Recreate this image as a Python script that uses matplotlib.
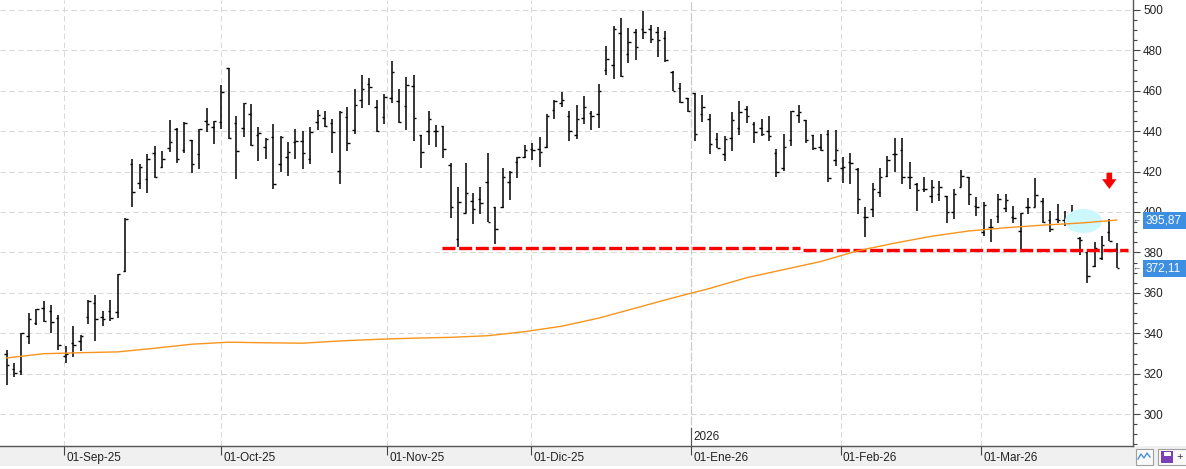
import matplotlib
matplotlib.use("Agg")
import matplotlib.pyplot as plt
import matplotlib.transforms as mtransforms
from matplotlib.patches import Ellipse, Polygon, Rectangle
from matplotlib.ticker import MultipleLocator

# ---------------- data ----------------
opens = [329.8, 322.2, 321.5, 338.8, 344.9, 352.4, 351.0, 347.4, 328.8, 335.0,
         336.4, 347.9, 354.8, 348.2, 351.0, 350.4, 371.0, 423.6, 414.5, 416.2,
         429.0, 422.1, 431.5, 441.0, 430.7, 435.6, 428.5, 445.0, 441.9, 444.3,
         471.1, 443.9, 441.4, 448.3, 438.1, 432.1, 437.3, 423.7, 427.0, 434.8,
         435.1, 426.2, 444.5, 446.3, 443.9, 420.3, 447.1, 440.6, 455.2, 463.3,
         451.8, 446.8, 456.2, 454.7, 452.2, 462.1, 437.9, 440.1, 440.1, 442.5,
         423.2, 386.5, 399.3, 405.6, 406.3, 415.0, 402.6, 402.3, 414.7, 424.6,
         427.0, 431.0, 431.0, 432.3, 450.5, 453.7, 447.5, 438.1, 446.6, 449.1,
         448.5, 470.2, 472.7, 488.4, 478.1, 488.9, 490.3, 490.3, 488.9, 485.9,
         469.4, 461.2, 456.5, 458.7, 448.3, 446.0, 436.0, 428.6, 436.6, 441.5,
         451.0, 443.5, 441.4, 440.0, 429.3, 421.6, 435.4, 448.0, 445.5, 438.1,
         432.0, 438.6, 425.7, 421.9, 424.6, 421.3, 397.4, 401.5, 410.0, 418.0,
         428.5, 430.7, 417.5, 413.7, 411.4, 407.9, 408.7, 407.9, 399.8, 412.5,
         417.1, 403.1, 390.3, 392.7, 398.0, 402.1, 397.4, 390.8, 402.3, 402.3,
         405.6, 396.0, 396.4, 396.0, 399.0, 387.0, 380.0, 373.5, 377.0, 390.3,
         381.5]
highs = [331.8, 325.1, 340.3, 349.9, 352.0, 356.0, 354.0, 349.0, 333.7, 343.6,
         339.2, 356.5, 358.9, 351.0, 356.5, 369.3, 396.9, 426.2, 423.6, 428.7,
         432.6, 430.2, 445.5, 441.4, 444.7, 435.6, 440.9, 451.3, 445.2, 462.8,
         471.1, 447.5, 453.7, 453.2, 442.2, 436.8, 443.5, 437.8, 434.8, 441.1,
         440.2, 441.9, 450.4, 450.0, 445.8, 450.0, 451.8, 460.7, 467.8, 466.1,
         455.4, 458.2, 474.7, 460.7, 466.6, 467.8, 437.9, 450.0, 443.0, 442.5,
         424.1, 412.2, 424.1, 409.2, 412.2, 429.0, 402.6, 421.6, 420.4, 427.4,
         433.0, 434.0, 437.3, 448.5, 455.4, 459.2, 450.0, 452.9, 457.4, 450.0,
         463.1, 482.1, 492.0, 495.8, 491.2, 490.3, 499.4, 492.5, 491.3, 489.5,
         469.7, 464.0, 456.5, 458.7, 457.9, 448.5, 439.0, 437.6, 449.5, 454.9,
         452.4, 444.3, 446.0, 447.5, 431.0, 438.6, 450.0, 452.9, 445.5, 438.1,
         438.6, 440.6, 440.6, 427.4, 429.0, 421.6, 402.3, 414.5, 421.6, 427.7,
         436.4, 436.4, 424.9, 414.2, 417.5, 415.8, 415.3, 407.9, 411.4, 420.8,
         417.1, 407.3, 404.8, 396.4, 408.9, 408.9, 403.0, 399.7, 407.1, 416.6,
         407.1, 400.5, 404.0, 400.7, 403.6, 387.5, 380.4, 385.3, 388.1, 396.6,
         384.5]
lows = [314.4, 318.6, 319.4, 334.7, 344.1, 345.8, 340.0, 331.8, 325.5, 328.5,
        331.4, 344.6, 336.4, 343.6, 346.3, 347.7, 370.5, 402.6, 411.2, 409.6,
        416.6, 421.9, 429.5, 424.1, 429.3, 419.5, 421.1, 439.7, 433.5, 440.9,
        435.9, 416.3, 437.0, 432.8, 425.4, 426.4, 411.5, 420.0, 418.0, 426.4,
        421.4, 423.9, 440.6, 442.2, 429.3, 413.8, 430.2, 438.6, 451.6, 452.9,
        439.7, 443.5, 454.1, 444.2, 440.6, 435.3, 421.9, 433.1, 432.3, 426.9,
        396.8, 382.8, 399.3, 393.9, 398.8, 394.9, 384.0, 402.1, 406.0, 417.0,
        426.5, 425.7, 422.4, 431.5, 445.8, 452.1, 435.3, 436.0, 443.5, 440.6,
        441.7, 467.8, 465.8, 466.6, 473.5, 475.2, 485.6, 483.4, 476.8, 474.4,
        459.8, 454.1, 449.6, 435.3, 444.7, 428.7, 431.5, 425.0, 430.3, 438.1,
        444.2, 434.3, 437.6, 435.1, 417.5, 420.3, 432.6, 443.8, 434.3, 430.7,
        430.2, 414.8, 422.7, 414.5, 413.9, 399.0, 387.8, 397.7, 407.6, 417.5,
        419.9, 413.9, 411.4, 400.7, 409.7, 404.3, 405.6, 394.4, 396.4, 412.5,
        403.5, 398.2, 388.3, 385.3, 394.7, 399.8, 394.4, 381.2, 399.0, 402.3,
        394.7, 390.3, 394.4, 393.1, 396.0, 378.7, 364.7, 373.0, 376.3, 385.7,
        372.1]
closes = [324.3, 320.2, 340.0, 346.9, 351.9, 345.9, 345.8, 334.1, 329.8, 334.2,
          338.8, 356.1, 346.9, 347.1, 347.7, 369.2, 396.5, 410.1, 422.1, 426.0,
          417.1, 426.0, 434.5, 426.2, 443.9, 423.6, 440.9, 443.4, 445.0, 459.5,
          436.4, 430.2, 453.7, 433.1, 439.2, 436.1, 413.8, 436.9, 429.5, 435.3,
          429.0, 439.4, 447.8, 442.7, 439.4, 449.3, 434.0, 452.7, 460.7, 462.0,
          440.2, 457.0, 469.4, 444.5, 462.6, 446.3, 429.5, 445.8, 440.1, 431.2,
          402.4, 404.8, 409.2, 401.3, 404.3, 395.2, 391.4, 417.5, 419.6, 427.0,
          430.7, 430.7, 429.5, 447.5, 455.1, 455.4, 440.1, 446.0, 451.8, 447.5,
          460.0, 475.5, 490.3, 467.3, 483.9, 481.4, 489.2, 485.6, 485.1, 475.2,
          460.0, 454.6, 450.0, 438.4, 451.8, 433.5, 431.6, 436.0, 445.5, 449.3,
          447.3, 439.4, 438.6, 437.8, 419.6, 432.0, 450.0, 449.3, 435.6, 431.5,
          430.7, 416.6, 430.7, 422.1, 424.4, 406.3, 397.4, 411.2, 417.5, 425.7,
          428.5, 417.3, 417.5, 410.9, 411.4, 412.2, 412.2, 399.8, 408.9, 417.8,
          408.7, 402.6, 403.5, 392.7, 406.4, 406.0, 396.9, 399.3, 402.3, 408.3,
          395.2, 391.6, 396.0, 397.0, 399.5, 386.0, 368.5, 382.4, 383.5, 385.7,
          372.1]

# moving average, read every 5 bars
ma_bar = list(range(0, 151, 5))
ma_val = [327.8, 329.9, 330.4, 330.8, 332.6, 334.6, 335.6, 335.3, 335.1, 336.2,
          337.0, 337.6, 338.0, 338.8, 340.8, 343.5, 347.5, 352.5, 357.5, 362.2,
          367.5, 371.5, 375.5, 380.8, 384.6, 388.0, 390.6, 392.2, 393.5, 394.5,
          396.0]

month_labels = ["01-Sep-25", "01-Oct-25", "01-Nov-25", "01-Dic-25",
                "01-Ene-26", "01-Feb-26", "01-Mar-26"]
month_pos = [7.8, 29.0, 51.4, 70.9, 92.5, 112.7, 131.7]
year_label = "2026"
year_pos = 92.5

y_ticks = list(range(300, 501, 20))
last_ma_label = "395,87"
last_close_label = "372,11"
last_ma_value = 395.87
last_close_value = 372.11

# support lines (two dashed red segments)
support_1 = (58.8, 107.2, 382.05)
support_2 = (107.6, 151.5, 381.4)

# --------------------------------------------------------------
W, H = 1186, 469
fig = plt.figure(figsize=(W / 100, H / 100), dpi=100)
fig.patch.set_facecolor("white")
plt.rcParams["font.family"] = ["Liberation Sans", "DejaVu Sans"]

# bottom strip (behind the axes)
fig.patches.append(Rectangle((0, 3.5 / H), 1, 20 / H,
                             transform=fig.transFigure, facecolor="#f0f0f0",
                             edgecolor="none", zorder=-10))

ax_bottom = (H - 445.7) / H
ax = fig.add_axes([0, ax_bottom, 1133 / W, 1 - ax_bottom])
ax.set_facecolor("white")
ax.set_xlim(-0.905, 152.2)
ax.set_ylim(284.4, 504.85)

# gridlines
for yv in y_ticks:
    ax.axhline(yv, color="#d9d9d9", lw=0.75, dashes=(5.3, 3.2), zorder=1)
for p in month_pos:
    if p == year_pos:
        ax.axvline(p, color="#cdcdcd", lw=0.9, dashes=(7, 1.5), zorder=1)
    else:
        ax.axvline(p, color="#d9d9d9", lw=0.75, dashes=(5.3, 3.2), zorder=1)

# OHLC bars
n = len(closes)
xs = list(range(n))
ax.vlines(xs, lows, highs, color="black", lw=1.1, zorder=3)
ax.hlines(opens, [x - 0.33 for x in xs], xs, color="black", lw=1.0, zorder=3)
ax.hlines(closes, xs, [x + 0.33 for x in xs], color="black", lw=1.0, zorder=3)

# red support lines
for x0, x1, yv in (support_1, support_2):
    ax.plot([x0, x1], [yv, yv], color="#ff0000", lw=2.4,
            dashes=(3.9, 1.1), solid_capstyle="butt", zorder=5)

# cyan highlight ellipse
ax.add_patch(Ellipse((145.5, 395.55), 5.0, 11.9, facecolor="#ccf7fb",
                     edgecolor="none", zorder=4))

# moving average
ax.plot(ma_bar, ma_val, color="#f7941d", lw=1.0, zorder=6)

# red down arrow
ax_c, stem_hw, head_hw = 149.0, 0.38, 0.97
arrow = Polygon([(ax_c - stem_hw, 419.4), (ax_c + stem_hw, 419.4),
                 (ax_c + stem_hw, 416.2), (ax_c + head_hw, 416.2),
                 (ax_c, 411.4), (ax_c - head_hw, 416.2),
                 (ax_c - stem_hw, 416.2)], closed=True,
                facecolor="#ff0000", edgecolor="none", zorder=7)
ax.add_patch(arrow)

# spines
for s in ("top", "left"):
    ax.spines[s].set_visible(False)
ax.spines["right"].set_color("#555555")
ax.spines["bottom"].set_color("#555555")
ax.spines["right"].set_linewidth(1.0)
ax.spines["bottom"].set_linewidth(1.0)

# y axis on the right
ax.yaxis.tick_right()
ax.set_yticks(y_ticks)
ax.set_yticklabels([str(v) for v in y_ticks])
ax.yaxis.set_minor_locator(MultipleLocator(5))
ax.tick_params(axis="y", which="major", length=4.7, width=0.8, color="#444444",
               labelsize=8.5, pad=2.6, labelcolor="#222222")
ax.tick_params(axis="y", which="minor", length=2.9, width=0.8, color="#444444")

# x axis ticks
ax.set_xticks(month_pos)
ax.set_xticklabels([])
ax.tick_params(axis="x", which="major", length=6.8, width=0.8, color="#444444")
for p, lab in zip(month_pos, month_labels):
    ax.annotate(lab, xy=(p, 0), xycoords=("data", "axes fraction"),
                xytext=(1.5, -8.9), textcoords="offset points",
                ha="left", va="center", fontsize=8.5, color="#222222",
                annotation_clip=False)

# year marker
trans = mtransforms.blended_transform_factory(ax.transData, ax.transAxes)
ax.plot([year_pos, year_pos], [0, 0.04], transform=trans, color="#555555",
        lw=0.8, zorder=6, clip_on=False)
ax.annotate(year_label, xy=(year_pos, 0), xycoords=("data", "axes fraction"),
            xytext=(1.5, 6.0), textcoords="offset points", ha="left",
            va="center", fontsize=8.5, color="#222222")

# value labels on the right
def value_box(value, text):
    y_px = 445.7 - (value - 284.4) / (504.85 - 284.4) * 445.7  # from top
    y_fig = 1 - y_px / H
    h = 16.5 / H
    fig.patches.append(Rectangle((1142.7 / W, y_fig - h / 2), (W - 1142.7) / W, h,
                                 transform=fig.transFigure, facecolor="#3d8fe3",
                                 edgecolor="none", zorder=5))
    fig.text(1146 / W, y_fig, text, color="white", fontsize=8.5,
             ha="left", va="center", zorder=6)
    fig.text(1136.5 / W, y_fig, "\u2190", color="#555555", fontsize=6,
             ha="center", va="center", zorder=6)

value_box(last_ma_value, last_ma_label)
value_box(last_close_value, last_close_label)

# small toolbar icons bottom right
fig.patches.append(Rectangle((1135.5 / W, 4.5 / H), 17 / W, 16 / H,
                             transform=fig.transFigure, facecolor="#fafafa",
                             edgecolor="#a0a0a0", lw=0.8, zorder=5))
fig.lines.append(plt.Line2D([1138 / W, 1141 / W, 1144 / W, 1147 / W, 1150 / W],
                            [10 / H, 15 / H, 11 / H, 16 / H, 12 / H],
                            transform=fig.transFigure, color="#4a90d9", lw=1.0,
                            zorder=6))
fig.patches.append(Rectangle((1157.5 / W, 4.5 / H), 30 / W, 16 / H,
                             transform=fig.transFigure, facecolor="#fafafa",
                             edgecolor="#a0a0a0", lw=0.8, zorder=5))
fig.patches.append(Rectangle((1161 / W, 6.5 / H), 12 / W, 12 / H,
                             transform=fig.transFigure, facecolor="#7b3fb5",
                             edgecolor="none", zorder=6))
fig.patches.append(Rectangle((1163.5 / W, 13 / H), 7 / W, 4.5 / H,
                             transform=fig.transFigure, facecolor="white",
                             edgecolor="none", zorder=7))
fig.text(1180 / W, 12.5 / H, "+", fontsize=8, color="#333333",
         ha="center", va="center", zorder=7)

fig.savefig("out.png", dpi=100, facecolor="white")
